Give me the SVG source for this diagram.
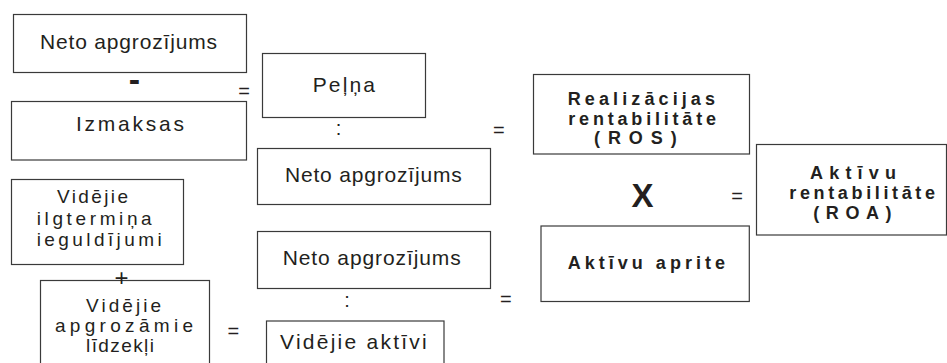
<svg xmlns="http://www.w3.org/2000/svg" width="947" height="363" viewBox="0 0 947 363">
  <style>
    .box { fill: #ffffff; stroke: #3a3a3a; stroke-width: 1.2; }
    .t { font-family: "Liberation Sans", Arial, sans-serif; font-size: 21px; fill: #231f20; }
    .s { font-family: "Liberation Sans", Arial, sans-serif; font-size: 19px; fill: #231f20; }
    .b { font-family: "Liberation Sans", Arial, sans-serif; font-size: 18px; font-weight: bold; fill: #231f20; }
    .op { font-family: "Liberation Sans", Arial, sans-serif; font-size: 20px; fill: #231f20; text-anchor: middle; }
  </style>
  <rect width="947" height="363" fill="#ffffff"/>

  <!-- left column: components -->
  <g id="neto-apgrozijums-1">
    <rect class="box" x="13.5" y="14.5" width="233" height="58"/>
    <text class="t" x="40" y="49" textLength="177" lengthAdjust="spacing">Neto apgrozījums</text>
  </g>
  <g id="izmaksas">
    <rect class="box" x="11.5" y="101.5" width="235" height="58.5"/>
    <text class="t" x="76" y="130.5" textLength="108" lengthAdjust="spacing">Izmaksas</text>
  </g>
  <g id="ilgtermina-ieguldijumi">
    <rect class="box" x="11.5" y="179.5" width="172" height="85"/>
    <text class="s" x="57" y="203" textLength="71" lengthAdjust="spacing">Vidējie</text>
    <text class="s" x="36.7" y="225" textLength="115" lengthAdjust="spacing">ilgtermiņa</text>
    <text class="s" x="36.7" y="246" textLength="125" lengthAdjust="spacing">ieguldījumi</text>
  </g>
  <g id="apgrozamie-lidzekli">
    <rect class="box" x="40.5" y="280.5" width="169" height="100"/>
    <text class="s" x="86" y="311.5" textLength="75" lengthAdjust="spacing">Vidējie</text>
    <text class="s" x="55" y="332" textLength="138" lengthAdjust="spacing">apgrozāmie</text>
    <text class="s" x="86" y="352" textLength="68" lengthAdjust="spacing">līdzekļi</text>
  </g>

  <!-- middle column: ratios -->
  <g id="pelna">
    <rect class="box" x="262.5" y="53.5" width="163" height="64"/>
    <text class="t" x="312.7" y="92.3" textLength="62.3" lengthAdjust="spacing">Peļņa</text>
  </g>
  <g id="neto-apgrozijums-2">
    <rect class="box" x="257.5" y="148.5" width="233" height="56"/>
    <text class="t" x="285" y="182" textLength="176.7" lengthAdjust="spacing">Neto apgrozījums</text>
  </g>
  <g id="neto-apgrozijums-3">
    <rect class="box" x="257.5" y="231.5" width="233" height="57"/>
    <text class="t" x="282.7" y="265" textLength="178" lengthAdjust="spacing">Neto apgrozījums</text>
  </g>
  <g id="videjie-aktivi">
    <rect class="box" x="266.5" y="321" width="177.5" height="60"/>
    <text class="t" x="280" y="349" textLength="146.7" lengthAdjust="spacing">Vidējie aktīvi</text>
  </g>

  <!-- right column: results -->
  <g id="ros">
    <rect class="box" x="533.5" y="74.5" width="216" height="79.5"/>
    <text class="b" x="567.7" y="105" textLength="147.3" lengthAdjust="spacing">Realizācijas</text>
    <text class="b" x="568.3" y="125" textLength="147.7" lengthAdjust="spacing">rentabilitāte</text>
    <text class="b" x="594" y="144" textLength="82.7" lengthAdjust="spacing">(ROS)</text>
  </g>
  <g id="aktivu-aprite">
    <rect class="box" x="541" y="226" width="208.3" height="75.5"/>
    <text class="b" x="567.7" y="269.3" textLength="157.3" lengthAdjust="spacing">Aktīvu aprite</text>
  </g>
  <g id="roa">
    <rect class="box" x="756.5" y="144.5" width="190" height="90.5"/>
    <text class="b" x="810" y="179" textLength="86" lengthAdjust="spacing">Aktīvu</text>
    <text class="b" x="789.3" y="199" textLength="145.7" lengthAdjust="spacing">rentabilitāte</text>
    <text class="b" x="813.3" y="218.5" textLength="78.3" lengthAdjust="spacing">(ROA)</text>
  </g>

  <!-- arithmetic operators between the boxes -->
  <g id="operators">
    <text class="op" x="134.5" y="91" style="font-size:34px;font-weight:bold">-</text>
    <text class="op" x="121.5" y="286" style="font-size:24px">+</text>
    <text class="op" x="244.2" y="98">=</text>
    <text class="op" x="233.3" y="338">=</text>
    <text class="op" x="338.5" y="135">:</text>
    <text class="op" x="347" y="307">:</text>
    <text class="op" x="498.8" y="136.5">=</text>
    <text class="op" x="505.8" y="306">=</text>
    <text class="op" x="642.5" y="206.7" style="font-size:33px;font-weight:bold">X</text>
    <text class="op" x="737.2" y="203">=</text>
  </g>
</svg>
